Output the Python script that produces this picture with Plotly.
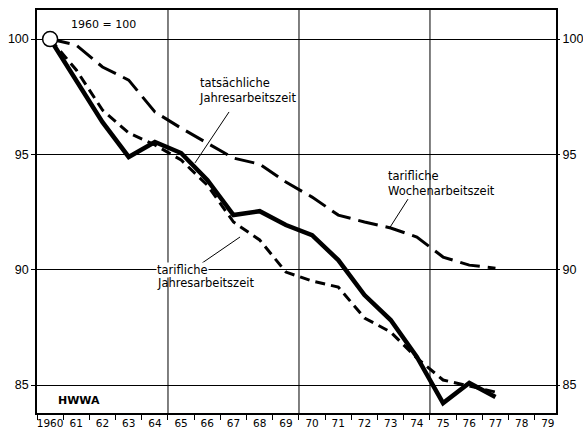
import plotly.graph_objects as go

years = list(range(1960, 1978))
tatsaechlich_jahr = [100, 98.22, 96.40, 94.89, 95.54, 95.06, 93.89, 92.37, 92.54, 91.94,
                     91.50, 90.42, 88.90, 87.82, 86.22, 84.22, 85.09, 84.48]
tariflich_woche = [100, 99.74, 98.79, 98.22, 96.84, 96.14, 95.49, 94.84, 94.58, 93.80,
                   93.15, 92.37, 92.07, 91.81, 91.42, 90.55, 90.20, 90.07]
tariflich_jahr = [100, 98.66, 96.92, 95.93, 95.41, 94.76, 93.67, 92.07, 91.29, 89.90,
                  89.51, 89.25, 87.91, 87.30, 86.17, 85.22, 84.96, 84.70]

tick_years = list(range(1960, 1980))
tick_text = ["1960"] + [str(y)[2:] for y in tick_years[1:]]
y_ticks = [85, 90, 95, 100]

FONT = "DejaVu Sans"
YFONT = "Liberation Sans"
fig = go.Figure()

fig.add_trace(go.Scatter(x=years, y=tariflich_woche, mode="lines",
                         line=dict(color="black", width=3, dash="20px,8px"),
                         showlegend=False, hoverinfo="skip"))
fig.add_trace(go.Scatter(x=years, y=tariflich_jahr, mode="lines",
                         line=dict(color="black", width=3, dash="10px,6px"),
                         showlegend=False, hoverinfo="skip"))
fig.add_trace(go.Scatter(x=years, y=tatsaechlich_jahr, mode="lines",
                         line=dict(color="black", width=4.5),
                         showlegend=False, hoverinfo="skip"))
fig.add_trace(go.Scatter(x=[years[0]], y=[tatsaechlich_jahr[0]], mode="markers",
                         marker=dict(size=15, color="white", line=dict(color="black", width=1.5)),
                         showlegend=False, hoverinfo="skip"))
# invisible trace for right axis
fig.add_trace(go.Scatter(x=[years[0]], y=[100], yaxis="y2", mode="markers",
                         marker=dict(opacity=0), showlegend=False, hoverinfo="skip"))

shapes = []
for xv in [1964.5, 1969.5, 1974.5]:
    shapes.append(dict(type="line", xref="x", yref="paper", x0=xv, x1=xv, y0=0, y1=1,
                       line=dict(color="black", width=1), layer="below"))
# leader lines
leaders = [((1966.83, 96.84), (1965.53, 94.63)),
           ((1973.66, 93.06), (1972.98, 91.85)),
           ((1965.80, 90.29), (1967.25, 91.42))]
for (a, b) in leaders:
    shapes.append(dict(type="line", xref="x", yref="y", x0=a[0], y0=a[1], x1=b[0], y1=b[1],
                       line=dict(color="black", width=1)))

anns = [
    dict(x=1962.02, y=100.61, text="1960 = 100", xanchor="center", font=dict(size=11)),
    dict(x=1965.65, y=97.75, text="tatsächliche<br>Jahresarbeitszeit", xanchor="left", align="left"),
    dict(x=1972.86, y=93.74, text="tarifliche<br>Wochenarbeitszeit", xanchor="left", align="left"),
    dict(x=1964.05, y=90.0, text="tarifliche", xanchor="left", align="left", bgcolor="white"),
    dict(x=1964.05, y=89.42, text="Jahresarbeitszeit", xanchor="left", align="left"),
    dict(x=1961.11, y=84.35, text="<b>HWWA</b>", xanchor="center", font=dict(size=11)),
]
for a in anns:
    a.setdefault("font", dict(size=11.5))
    a["font"]["family"] = FONT
    a["font"]["color"] = "black"
    a.update(xref="x", yref="y", showarrow=False, borderpad=0)

yrange = [83.79, 101.26]
fig.update_layout(
    width=583, height=429,
    margin=dict(l=37, r=27, t=10, b=16, autoexpand=False),
    paper_bgcolor="white", plot_bgcolor="white",
    font=dict(family=FONT, color="black"),
    shapes=shapes, annotations=anns,
    xaxis=dict(range=[1959.5, 1979.31], tickmode="array", tickvals=tick_years, ticktext=tick_text,
               ticks="", showgrid=False, zeroline=False, showline=True, linecolor="black",
               linewidth=1.5, mirror=True, tickfont=dict(size=10.5, family=FONT),
               minor=dict(tick0=1959.5, dtick=1, ticks="outside", ticklen=5, tickcolor="black",
                          showgrid=False)),
    yaxis=dict(range=yrange, tickmode="array", tickvals=y_ticks, ticks="outside", ticklen=4,
               tickcolor="black", showgrid=True, gridcolor="black", gridwidth=1, zeroline=False,
               showline=True, linecolor="black", linewidth=1.5, mirror=True,
               tickfont=dict(size=12.5, family=YFONT)),
    yaxis2=dict(range=yrange, overlaying="y", side="right", tickmode="array", tickvals=y_ticks,
                ticks="outside", ticklen=3, tickcolor="black", showgrid=False, zeroline=False,
                showline=False, tickfont=dict(size=12.5, family=YFONT)),
)

fig.write_html("out.html", config={"displayModeBar": False},
               post_script="document.body.style.margin='0';document.body.style.overflow='hidden';")
